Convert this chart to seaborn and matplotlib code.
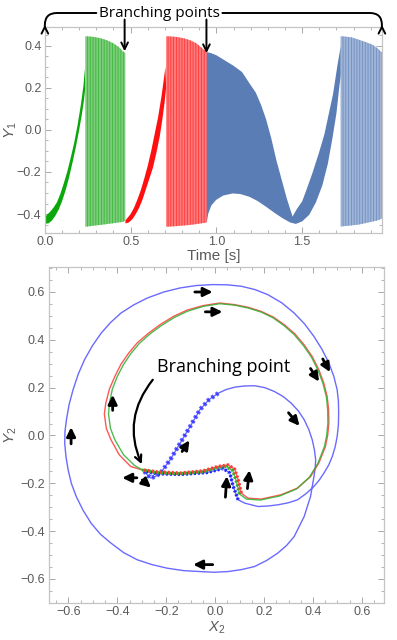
import matplotlib
matplotlib.use("Agg")
import matplotlib.pyplot as plt
import seaborn as sns
import pandas as pd
from matplotlib.ticker import MultipleLocator

# ---------------- top panel: Y1 vs time, envelopes ----------------
# slow rising bands (left edge = upper, right edge = lower)
green_rise_up_t = [0.0, 0.01, 0.03, 0.05, 0.07, 0.09, 0.11, 0.13, 0.15, 0.17, 0.19, 0.21, 0.225, 0.233]
green_rise_up_y = [-0.42, -0.405, -0.39, -0.37, -0.345, -0.305, -0.255, -0.20, -0.135, -0.065,
                   0.02, 0.12, 0.21, 0.29]
green_rise_lo_t = [0.0, 0.02, 0.04, 0.06, 0.08, 0.10, 0.12, 0.14, 0.16, 0.18, 0.20, 0.215, 0.228, 0.236]
green_rise_lo_y = [-0.445, -0.445, -0.432, -0.41, -0.38, -0.34, -0.29, -0.23, -0.16, -0.085,
                   0.0, 0.07, 0.14, 0.20]

red_rise_up_t = [0.47, 0.48, 0.50, 0.52, 0.54, 0.56, 0.58, 0.60, 0.62, 0.64, 0.66, 0.68, 0.695, 0.703]
red_rise_up_y = [-0.43, -0.42, -0.40, -0.37, -0.33, -0.285, -0.23, -0.17, -0.10, -0.02,
                 0.06, 0.16, 0.25, 0.30]
red_rise_lo_t = [0.47, 0.49, 0.51, 0.53, 0.55, 0.57, 0.59, 0.61, 0.63, 0.65, 0.67, 0.685, 0.698, 0.707]
red_rise_lo_y = [-0.445, -0.44, -0.425, -0.40, -0.37, -0.33, -0.28, -0.23, -0.18, -0.11,
                 -0.03, 0.05, 0.13, 0.20]

# fast oscillation regions (top / bottom envelope)
green_osc_t = [0.236, 0.242, 0.28, 0.32, 0.36, 0.397, 0.43, 0.455, 0.469]
green_osc_top = [0.445, 0.445, 0.443, 0.437, 0.427, 0.413, 0.395, 0.374, 0.365]
green_osc_bot = [-0.46, -0.46, -0.456, -0.452, -0.448, -0.444, -0.44, -0.437, -0.432]

red_osc_t = [0.707, 0.72, 0.76, 0.804, 0.845, 0.882, 0.915, 0.93, 0.944]
red_osc_top = [0.445, 0.445, 0.443, 0.437, 0.427, 0.413, 0.39, 0.38, 0.37]
red_osc_bot = [-0.46, -0.46, -0.458, -0.455, -0.452, -0.448, -0.444, -0.442, -0.44]

blue_mid_up_t = [0.944, 0.97, 1.0, 1.05, 1.10, 1.15, 1.19, 1.23, 1.26, 1.29, 1.32, 1.35, 1.38,
                 1.41, 1.444, 1.47, 1.50, 1.521, 1.56, 1.599, 1.63, 1.657, 1.68, 1.705, 1.725]
blue_mid_up_y = [0.37, 0.365, 0.355, 0.33, 0.305, 0.275, 0.225, 0.177, 0.12, 0.05, -0.04,
                 -0.145, -0.235, -0.325, -0.412, -0.375, -0.34, -0.294, -0.205, -0.106,
                 -0.02, 0.083, 0.17, 0.303, 0.40]
blue_mid_lo_t = [0.944, 0.952, 0.97, 0.998, 1.04, 1.095, 1.14, 1.192, 1.24, 1.289, 1.34, 1.386,
                 1.43, 1.463, 1.50, 1.541, 1.58, 1.618, 1.65, 1.676, 1.70, 1.715, 1.725]
blue_mid_lo_y = [-0.44, -0.40, -0.36, -0.333, -0.312, -0.302, -0.305, -0.318, -0.338, -0.365,
                 -0.395, -0.42, -0.44, -0.447, -0.435, -0.404, -0.345, -0.263, -0.16, -0.042,
                 0.08, 0.193, 0.26]

blue_osc_t = [1.725, 1.74, 1.79, 1.831, 1.87, 1.909, 1.94, 1.957, 1.965]
blue_osc_top = [0.445, 0.445, 0.44, 0.429, 0.418, 0.406, 0.388, 0.374, 0.37]
blue_osc_bot = [-0.46, -0.458, -0.454, -0.45, -0.443, -0.436, -0.43, -0.425, -0.42]

# ---------------- bottom panel: phase portrait (X2, Y2), clockwise from the branching point ----------------
red_x = [-0.298, -0.345, -0.392, -0.426, -0.445, -0.453, -0.447, -0.432, -0.41, -0.385, -0.353,
         -0.318, -0.272, -0.223, -0.17, -0.115, -0.05, 0.019, 0.08, 0.135, 0.188, 0.238,
         0.283, 0.326, 0.364, 0.397, 0.424, 0.444, 0.458, 0.464, 0.465, 0.46, 0.451, 0.424,
         0.39, 0.337, 0.269, 0.188, 0.134, 0.107, 0.094, 0.08, 0.053, 0.01, -0.05, -0.143,
         -0.237, -0.298]
red_y = [-0.144, -0.13, -0.081, -0.018, 0.03, 0.09, 0.136, 0.195, 0.247, 0.298, 0.345,
         0.388, 0.428, 0.465, 0.498, 0.524, 0.543, 0.554, 0.547, 0.536, 0.519, 0.495,
         0.463, 0.425, 0.379, 0.33, 0.275, 0.22, 0.163, 0.108, 0.052, 0.0, -0.046, -0.115,
         -0.172, -0.22, -0.248, -0.266, -0.262, -0.241, -0.185, -0.141, -0.123, -0.13, -0.148,
         -0.157, -0.152, -0.144]

green_x = [-0.298, -0.33, -0.375, -0.41, -0.428, -0.436, -0.432, -0.42, -0.4, -0.375, -0.345,
           -0.31, -0.266, -0.218, -0.166, -0.112, -0.048, 0.019, 0.08, 0.135, 0.188, 0.237,
           0.281, 0.323, 0.361, 0.394, 0.421, 0.441, 0.455, 0.46, 0.461, 0.456, 0.447, 0.42,
           0.385, 0.332, 0.264, 0.185, 0.128, 0.1, 0.086, 0.072, 0.045, 0.005, -0.05, -0.143,
           -0.237, -0.298]
green_y = [-0.144, -0.125, -0.08, -0.018, 0.03, 0.09, 0.136, 0.195, 0.247, 0.296, 0.342,
           0.385, 0.425, 0.461, 0.494, 0.52, 0.54, 0.551, 0.545, 0.533, 0.516, 0.492,
           0.46, 0.422, 0.376, 0.327, 0.272, 0.217, 0.16, 0.106, 0.052, 0.0, -0.046, -0.117,
           -0.175, -0.224, -0.253, -0.27, -0.266, -0.245, -0.19, -0.147, -0.13, -0.136, -0.152,
           -0.16, -0.156, -0.144]

blue_x = [-0.29, -0.277, -0.264, -0.245, -0.223, -0.183, -0.143, -0.102, -0.062, -0.025, 0.013,
          0.045, 0.08, 0.12, 0.161, 0.203, 0.242, 0.278, 0.31, 0.34, 0.364, 0.383, 0.397,
          0.406, 0.411, 0.409, 0.404, 0.39, 0.364, 0.323, 0.292, 0.256, 0.21, 0.161, 0.107,
          0.053, -0.005, -0.062, -0.13, -0.196, -0.258, -0.318, -0.374, -0.426, -0.47, -0.507,
          -0.54, -0.568, -0.588, -0.601, -0.61, -0.615, -0.614, -0.608, -0.597, -0.581, -0.56,
          -0.534, -0.502, -0.466, -0.428, -0.385, -0.333, -0.277, -0.21, -0.143, -0.077, -0.01,
          0.05, 0.107, 0.163, 0.215, 0.272, 0.323, 0.366, 0.404, 0.437, 0.465, 0.485, 0.499,
          0.504, 0.505, 0.504, 0.499, 0.491, 0.479, 0.464, 0.445, 0.426, 0.404, 0.372, 0.337,
          0.297, 0.256, 0.215, 0.175, 0.121, 0.094, 0.074, 0.06, 0.033, -0.034, -0.143,
          -0.237, -0.29]
blue_y = [-0.15, -0.165, -0.178, -0.172, -0.157, -0.10, -0.032, 0.038, 0.108, 0.15, 0.177,
          0.192, 0.202, 0.207, 0.208, 0.2, 0.184, 0.163, 0.136, 0.103, 0.066, 0.025, -0.018,
          -0.06, -0.102, -0.137, -0.172, -0.255, -0.339, -0.423, -0.46, -0.492, -0.523, -0.548,
          -0.561, -0.569, -0.572, -0.569, -0.565, -0.555, -0.54, -0.52, -0.49, -0.45, -0.412,
          -0.367, -0.313, -0.255, -0.2, -0.144, -0.088, -0.032, 0.017, 0.066, 0.13, 0.191,
          0.256, 0.317, 0.375, 0.428, 0.472, 0.512, 0.546, 0.575, 0.6, 0.617, 0.627, 0.631,
          0.630, 0.624, 0.61, 0.589, 0.555, 0.512, 0.466, 0.414, 0.36, 0.303, 0.248, 0.191,
          0.143, 0.094, 0.045, -0.004, -0.046, -0.088, -0.124, -0.157, -0.186, -0.213, -0.243,
          -0.269, -0.282, -0.29, -0.295, -0.297, -0.283, -0.269, -0.213, -0.157, -0.138,
          -0.155, -0.163, -0.16, -0.15]

# direction arrows (tail x, tail y, head x, head y)
flow_arrows = [
    (-0.083, 0.60, -0.01, 0.60), (-0.04, 0.517, 0.03, 0.517),
    (0.39, 0.28, 0.425, 0.225), (0.44, 0.32, 0.47, 0.265),
    (0.30, 0.095, 0.345, 0.04), (-0.135, -0.067, -0.105, -0.02),
    (-0.589, -0.035, -0.589, 0.035), (-0.419, 0.105, -0.419, 0.17),
    (-0.32, -0.177, -0.38, -0.177), (-0.298, -0.186, -0.262, -0.218),
    (0.042, -0.258, 0.048, -0.17), (0.132, -0.222, 0.14, -0.145),
    (-0.01, -0.54, -0.09, -0.54),
]

GREEN, RED, BLUE = "#0aa80a", "#ff1010", "#5a7db5"
GREEN_L, RED_L, BLUE_L = "#7ccc7c", "#ff7a7a", "#9fb4d6"
LINE_BLUE, LINE_RED, LINE_GREEN = "#5050ff", "#ff3a3a", "#30b030"
FRAME = "#c4c4c4"
TXT = "#5a5a5a"

sns.set_theme(style="ticks")
plt.rcParams["font.family"] = ["Liberation Sans", "DejaVu Sans"]
plt.rcParams["mathtext.fontset"] = "custom"
plt.rcParams["mathtext.rm"] = "Liberation Sans"
plt.rcParams["mathtext.it"] = "Liberation Sans:italic"
plt.rcParams["hatch.linewidth"] = 0.6


def style_frame(ax):
    for sp in ax.spines.values():
        sp.set_color(FRAME)
        sp.set_linewidth(0.9)
    ax.tick_params(which="both", direction="in", top=True, right=True,
                   color="#a8a8a8", labelcolor=TXT, labelsize=9, pad=2.5)
    ax.tick_params(which="major", length=4, width=0.7)
    ax.tick_params(which="minor", length=2, width=0.6)


def fill_band(ax, t_up, y_up, t_lo, y_lo, color):
    ax.fill(list(t_up) + list(t_lo[::-1]), list(y_up) + list(y_lo[::-1]),
            color=color, lw=0)


def fill_osc(ax, t, top, bot, light, dark):
    plt.rcParams["hatch.color"] = dark
    ax.fill_between(t, bot, top, facecolor=light, edgecolor=dark, hatch="||||||", lw=0)


fig = plt.figure(figsize=(3.97, 6.40), dpi=100)

# ---------------- top ----------------
ax1 = fig.add_axes([0.113, 0.636, 0.849, 0.322])
fill_band(ax1, green_rise_up_t, green_rise_up_y, green_rise_lo_t, green_rise_lo_y, GREEN)
fill_osc(ax1, green_osc_t, green_osc_top, green_osc_bot, GREEN_L, "#3cb83c")
fill_band(ax1, red_rise_up_t, red_rise_up_y, red_rise_lo_t, red_rise_lo_y, RED)
fill_osc(ax1, red_osc_t, red_osc_top, red_osc_bot, RED_L, "#ff3535")
fill_band(ax1, blue_mid_up_t, blue_mid_up_y, blue_mid_lo_t, blue_mid_lo_y, BLUE)
fill_osc(ax1, blue_osc_t, blue_osc_top, blue_osc_bot, BLUE_L, "#6e8fc0")

ax1.set_xlim(0, 1.965)
ax1.set_ylim(-0.49, 0.49)
ax1.xaxis.set_minor_locator(MultipleLocator(0.1))
ax1.yaxis.set_major_locator(MultipleLocator(0.2))
ax1.yaxis.set_minor_locator(MultipleLocator(0.05))
ax1.set_xticks([0.0, 0.5, 1.0, 1.5])
ax1.set_xticklabels(["0.0", "0.5", "1.0", "1.5"])
style_frame(ax1)
ax1.set_xlabel("Time [s]", fontsize=11, color=TXT)
ax1.set_ylabel("$Y_1$", fontsize=11, color=TXT)
ax1.xaxis.set_label_coords(0.5, -0.078)
ax1.yaxis.set_label_coords(-0.078, 0.5)

ann_font = dict(family=["Open Sans", "DejaVu Sans"], color="black")
ax1.text(0.669, 0.553, "Branching points", fontsize=11, ha="center", va="center",
         clip_on=False, **ann_font)
for tx, hx in [(0.30, 0.0), (1.035, 1.965)]:
    ax1.annotate("", xy=(hx, 0.50), xytext=(tx, 0.556), annotation_clip=False,
                 arrowprops=dict(arrowstyle="->", color="black", lw=1.4,
                                 connectionstyle="angle,angleA=0,angleB=90,rad=12",
                                 shrinkA=0, shrinkB=0))
for hx, hy in [(0.465, 0.374), (0.942, 0.365)]:
    ax1.annotate("", xy=(hx, hy), xytext=(hx, 0.525), annotation_clip=False,
                 arrowprops=dict(arrowstyle="->", color="black", lw=1.4,
                                 shrinkA=0, shrinkB=0))

# ---------------- bottom ----------------
ax2 = fig.add_axes([0.123, 0.058, 0.844, 0.525])
curves = pd.concat([
    pd.DataFrame({"x": blue_x, "y": blue_y, "run": "blue"}),
    pd.DataFrame({"x": red_x, "y": red_y, "run": "red"}),
    pd.DataFrame({"x": green_x, "y": green_y, "run": "green"}),
], ignore_index=True)
sns.lineplot(data=curves, x="x", y="y", hue="run", estimator=None, sort=False,
             palette={"blue": LINE_BLUE, "red": LINE_RED, "green": LINE_GREEN},
             lw=1.0, alpha=0.85, legend=False, ax=ax2)

# beaded (dense oscillation) stretches: inner loop start and the S-shaped return
bead = (0, (0.6, 0.6))
ax2.plot(blue_x[:11], blue_y[:11], color="#2222ff", lw=3.2, ls=bead, alpha=0.75)
ax2.plot(blue_x[-8:], blue_y[-8:], color="#2222ff", lw=2.4, ls=bead)
ax2.plot(green_x[-9:], green_y[-9:], color=LINE_GREEN, lw=2.4, ls=bead)
ax2.plot(red_x[-9:], red_y[-9:], color=LINE_RED, lw=2.4, ls=bead)

for x0, y0, x1, y1 in flow_arrows:
    ax2.annotate("", xy=(x1, y1), xytext=(x0, y0),
                 arrowprops=dict(arrowstyle="-|>,head_length=0.45,head_width=0.22",
                                 color="black", lw=2.0, shrinkA=0, shrinkB=0))

ax2.text(0.035, 0.285, "Branching point", fontsize=13, ha="center", va="center", **ann_font)
ax2.annotate("", xy=(-0.30, -0.12), xytext=(-0.255, 0.233),
             arrowprops=dict(arrowstyle="->", color="black", lw=1.6, shrinkA=0, shrinkB=0,
                             connectionstyle="arc3,rad=0.3"))

ax2.set_xlim(-0.68, 0.69)
ax2.set_ylim(-0.70, 0.705)
ax2.xaxis.set_major_locator(MultipleLocator(0.2))
ax2.xaxis.set_minor_locator(MultipleLocator(0.05))
ax2.yaxis.set_major_locator(MultipleLocator(0.2))
ax2.yaxis.set_minor_locator(MultipleLocator(0.05))
style_frame(ax2)
ax2.set_xlabel("$X_2$", fontsize=10.5, color=TXT)
ax2.set_ylabel("$Y_2$", fontsize=11, color=TXT)
ax2.xaxis.set_label_coords(0.5, -0.05)
ax2.yaxis.set_label_coords(-0.09, 0.5)

fig.savefig("out.png", dpi=100)
